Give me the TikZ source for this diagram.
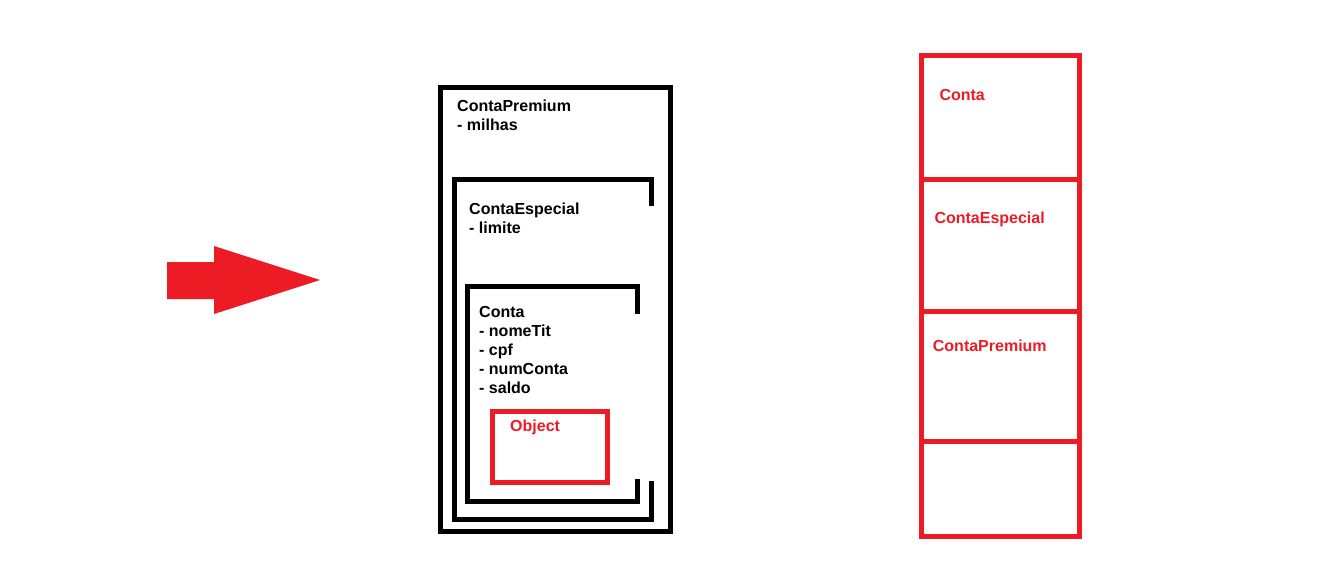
\documentclass[tikz,border=0pt]{standalone}
\usepackage{fontspec}
\setmainfont{Liberation Sans}
\definecolor{paintred}{HTML}{ED1C24}
\begin{document}
\begin{tikzpicture}[x=1pt,y=-1pt,
  txt/.style={anchor=base west,inner sep=0pt,font=\bfseries\fontsize{16}{19}\selectfont},
  redtxt/.style={txt,text=paintred},
  blk/.style={draw=black,line width=5pt,miter limit=10},
  rbox/.style={draw=paintred,line width=5pt}]
\useasboundingbox[fill=white] (0,0) rectangle (1340,568);
% arrow
\fill[paintred] (167,262) -- (214,262) -- (214,246) -- (320,280) -- (214,314) -- (214,299) -- (167,299) -- cycle;
% ContaPremium box
\draw[blk] (440.5,87.5) rectangle (670.5,531.5);
% ContaEspecial box with gap
\draw[blk] (651.5,205.5) -- (651.5,179) -- (454,179) -- (454,519) -- (651.5,519) -- (651.5,481);
% Conta box with gap
\draw[blk] (637,314) -- (637,286) -- (467,286) -- (467,501) -- (637,501) -- (637,479);
% Object box
\draw[rbox] (492,411.5) rectangle (607,482.5);
% texts
\node[txt] (cpT) at (457,111) {ContaPremium};
\node[txt] (cpA) at (457,130) {- milhas};
\node[txt] (ceT) at (469,214) {ContaEspecial};
\node[txt] (ceA) at (469,233) {- limite};
\node[txt] (cT) at (479,317) {Conta};
\node[txt] (cA) at (479,336) {- nomeTit};
\node[txt] (cB) at (479,355) {- cpf};
\node[txt] (cC) at (479,374) {- numConta};
\node[txt] (cD) at (479,393) {- saldo};
\node[redtxt] (obj) at (510,431) {Object};
% right stack
\draw[rbox] (921.5,55) rectangle (1079,536);
\draw[rbox] (921.5,179) -- (1079,179);
\draw[rbox] (921.5,311.5) -- (1079,311.5);
\draw[rbox] (921.5,441) -- (1079,441);
\node[redtxt] (s1) at (939.3,100.7) {Conta};
\node[redtxt] (s2) at (934.3,223) {ContaEspecial};
\node[redtxt] (s3) at (932.7,351.7) {ContaPremium};
\end{tikzpicture}
\end{document}
